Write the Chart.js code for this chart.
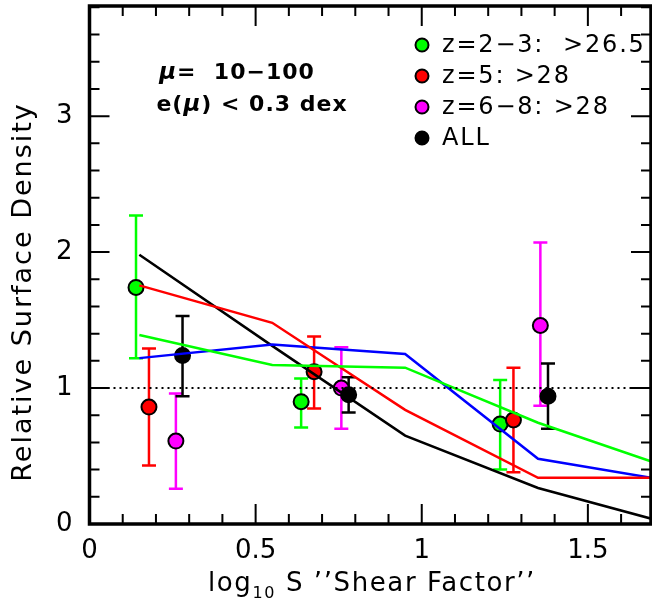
<!DOCTYPE html>
<html>
<head>
<meta charset="utf-8">
<script src="https://cdn.jsdelivr.net/npm/chart.js@4/dist/chart.umd.min.js"></script>
<style>
html,body{margin:0;padding:0;background:#fff;}
canvas{display:block;}
</style>
</head>
<body>
<canvas id="c" width="652" height="605"></canvas>
<script>
// ---- data ----
const xTicks = [0, 0.5, 1, 1.5];
const yTicks = [0, 1, 2, 3];

const legendLabels = ["z=2\u22123:  >26.5", "z=5: >28", "z=6\u22128: >28", "ALL"];

const greenX  = [0.14, 0.637, 1.236];
const greenY  = [1.74, 0.90, 0.735];
const greenLo = [1.22, 0.71, 0.40];
const greenHi = [2.27, 1.07, 1.06];

const redX  = [0.179, 0.676, 1.276];
const redY  = [0.86, 1.12, 0.765];
const redLo = [0.43, 0.85, 0.38];
const redHi = [1.29, 1.38, 1.15];

const magX  = [0.26, 0.758, 1.357];
const magY  = [0.61, 1.00, 1.46];
const magLo = [0.26, 0.70, 0.87];
const magHi = [0.96, 1.30, 2.07];

const allX  = [0.28, 0.78, 1.38];
const allY  = [1.24, 0.95, 0.94];
const allLo = [0.94, 0.82, 0.70];
const allHi = [1.53, 1.08, 1.18];

const modelX     = [0.15, 0.55, 0.95, 1.35, 1.75];
const modelGreen = [1.39, 1.17, 1.15, 0.745, 0.41];
const modelRed   = [1.755, 1.48, 0.84, 0.34, 0.34];
const modelBlue  = [1.22, 1.32, 1.25, 0.48, 0.315];
const modelBlack = [1.98, 1.31, 0.65, 0.265, 0.0];

const refX = [0, 1.69];
const refY = [1, 1];

// ---- helpers ----
const pts = (xs, ys) => xs.map((v, i) => ({x: v, y: ys[i]}));
const FONT = "'DejaVu Sans', 'Liberation Sans', sans-serif";

function pointSet(label, xs, ys, lo, hi, color, order) {
  return {
    label, data: pts(xs, ys), errLo: lo, errHi: hi, errColor: color,
    backgroundColor: color, borderColor: '#000', borderWidth: 2,
    pointRadius: 7.5, pointHoverRadius: 7.5, showLine: false, order, isPoint: true
  };
}
function lineSet(xs, ys, color, extra) {
  return Object.assign({
    data: pts(xs, ys), borderColor: color, borderWidth: 2.5, pointRadius: 0,
    showLine: true, tension: 0, fill: false, order: 0
  }, extra || {});
}
function noPad(s) {
  s.paddingTop = 0; s.paddingBottom = 0; s.paddingLeft = 0; s.paddingRight = 0;
}

const framePlugin = {
  id: 'frame',
  beforeDatasetsDraw(chart) {
    const {ctx, scales: {x, y}} = chart;
    ctx.save();
    ctx.lineWidth = 2.5;
    chart.data.datasets.forEach(ds => {
      if (!ds.isPoint) return;
      ctx.strokeStyle = ds.errColor;
      ds.data.forEach((p, i) => {
        const px = x.getPixelForValue(p.x);
        const pl = y.getPixelForValue(ds.errLo[i]);
        const ph = y.getPixelForValue(ds.errHi[i]);
        ctx.beginPath();
        ctx.moveTo(px, pl); ctx.lineTo(px, ph);
        ctx.moveTo(px - 7, pl); ctx.lineTo(px + 7, pl);
        ctx.moveTo(px - 7, ph); ctx.lineTo(px + 7, ph);
        ctx.stroke();
      });
    });
    ctx.restore();
  },
  afterDraw(chart) {
    const {ctx, chartArea: ca, scales: {x, y}} = chart;
    ctx.save();
    ctx.strokeStyle = '#000';
    // ticks
    ctx.lineWidth = 2;
    for (let k = 0; k <= 17; k++) {
      const v = k / 10;
      const px = x.getPixelForValue(v);
      if (px > ca.right - 1) continue;
      const len = (k % 5 === 0) ? 20 : 10;
      ctx.beginPath();
      ctx.moveTo(px, ca.bottom); ctx.lineTo(px, ca.bottom - len);
      ctx.moveTo(px, ca.top); ctx.lineTo(px, ca.top + len);
      ctx.stroke();
    }
    for (let k = 0; k <= 19; k++) {
      const v = k / 5;
      const py = y.getPixelForValue(v);
      if (py < ca.top + 1) continue;
      const len = (k % 5 === 0) ? 20 : 10;
      ctx.beginPath();
      ctx.moveTo(ca.left, py); ctx.lineTo(ca.left + len, py);
      ctx.moveTo(ca.right, py); ctx.lineTo(ca.right - len, py);
      ctx.stroke();
    }
    // frame
    ctx.lineWidth = 3.5;
    ctx.strokeRect(ca.left, ca.top, ca.right - ca.left, ca.bottom - ca.top);

    ctx.fillStyle = '#000';
    // y title
    ctx.save();
    ctx.translate(24, 292);
    ctx.rotate(-Math.PI / 2);
    ctx.font = "27px " + FONT;
    ctx.textAlign = 'center';
    ctx.textBaseline = 'middle';
    ctx.letterSpacing = '2px';
    ctx.fillText('Relative Surface Density', 0, 0);
    ctx.restore();

    // x title with subscript
    ctx.save();
    ctx.textBaseline = 'alphabetic';
    ctx.textAlign = 'left';
    ctx.letterSpacing = '1.6px';
    const t1 = 'log', t2 = '10', t3 = " S \u2019\u2019Shear Factor\u2019\u2019";
    ctx.font = "26px " + FONT; const w1 = ctx.measureText(t1).width; const w3 = ctx.measureText(t3).width;
    ctx.font = "16px " + FONT; const w2 = ctx.measureText(t2).width;
    let sx = 372 - (w1 + w2 + w3) / 2;
    const base = 591;
    ctx.font = "26px " + FONT; ctx.fillText(t1, sx, base); sx += w1;
    ctx.font = "16px " + FONT; ctx.fillText(t2, sx, base + 7); sx += w2;
    ctx.font = "26px " + FONT; ctx.fillText(t3, sx, base);
    ctx.restore();

    // legend
    ctx.save();
    const pointSets = chart.data.datasets.filter(d => d.isPoint);
    ctx.font = "24px " + FONT;
    ctx.letterSpacing = '1.8px';
    ctx.textBaseline = 'middle';
    ctx.textAlign = 'left';
    pointSets.forEach((ds, i) => {
      const cy = 45 + i * 31;
      ctx.beginPath();
      ctx.arc(422, cy, 6.5, 0, Math.PI * 2);
      ctx.fillStyle = ds.backgroundColor;
      ctx.fill();
      ctx.lineWidth = 2; ctx.strokeStyle = '#000'; ctx.stroke();
      ctx.fillStyle = '#000';
      ctx.fillText(ds.label, 442, cy + 1);
    });
    ctx.restore();

    // annotation
    ctx.save();
    ctx.textBaseline = 'alphabetic';
    ctx.textAlign = 'left';
    ctx.fillStyle = '#000';
    const drawParts = (parts, cx, by) => {
      let tw = 0;
      parts.forEach(p => { ctx.font = p[1]; tw += ctx.measureText(p[0]).width; });
      let xx = cx - tw / 2;
      parts.forEach(p => { ctx.font = p[1]; ctx.fillText(p[0], xx, by); xx += ctx.measureText(p[0]).width; });
    };
    const fb = "bold 22px " + FONT, fi = "italic bold 23px " + FONT;
    ctx.letterSpacing = '1px';
    drawParts([['\u03bc', fi], ['=  10\u2212100', fb]], 237, 79);
    drawParts([['e(', fb], ['\u03bc', fi], [') < 0.3 dex', fb]], 252, 111);
    ctx.restore();

    ctx.restore();
  }
};

new Chart(document.getElementById('c'), {
  type: 'scatter',
  data: {
    datasets: [
      lineSet(refX, refY, '#000', {borderDash: [2, 4], borderWidth: 2, order: 0}),
      lineSet(modelX, modelGreen, '#00ff00'),
      lineSet(modelX, modelRed, '#ff0000'),
      lineSet(modelX, modelBlue, '#0000ff'),
      lineSet(modelX, modelBlack, '#000000'),
      pointSet(legendLabels[0], greenX, greenY, greenLo, greenHi, '#00ff00', 4),
      pointSet(legendLabels[1], redX, redY, redLo, redHi, '#ff0000', 3),
      pointSet(legendLabels[2], magX, magY, magLo, magHi, '#ff00ff', 2),
      pointSet(legendLabels[3], allX, allY, allLo, allHi, '#000000', 1)
    ]
  },
  options: {
    responsive: false,
    animation: false,
    layout: {autoPadding: false, padding: {top: 6, right: 1, left: 0, bottom: 0}},
    plugins: {legend: {display: false}, tooltip: {enabled: false}},
    scales: {
      x: {
        type: 'linear', min: 0, max: 1.69,
        afterBuildTicks: s => { s.ticks = xTicks.map(v => ({value: v})); },
        afterFit: s => { s.height = 81; noPad(s); },
        ticks: {font: {family: FONT, size: 26}, color: '#000', padding: 12, maxRotation: 0,
                callback: v => String(v)},
        grid: {display: false, drawTicks: false},
        border: {display: false}
      },
      y: {
        type: 'linear', min: 0, max: 3.81,
        afterBuildTicks: s => { s.ticks = yTicks.map(v => ({value: v})); },
        afterFit: s => { s.width = 89.5; noPad(s); },
        ticks: {font: {family: FONT, size: 26}, color: '#000', padding: 17,
                callback: v => String(v)},
        grid: {display: false, drawTicks: false},
        border: {display: false}
      }
    }
  },
  plugins: [framePlugin]
});
</script>
</body>
</html>
